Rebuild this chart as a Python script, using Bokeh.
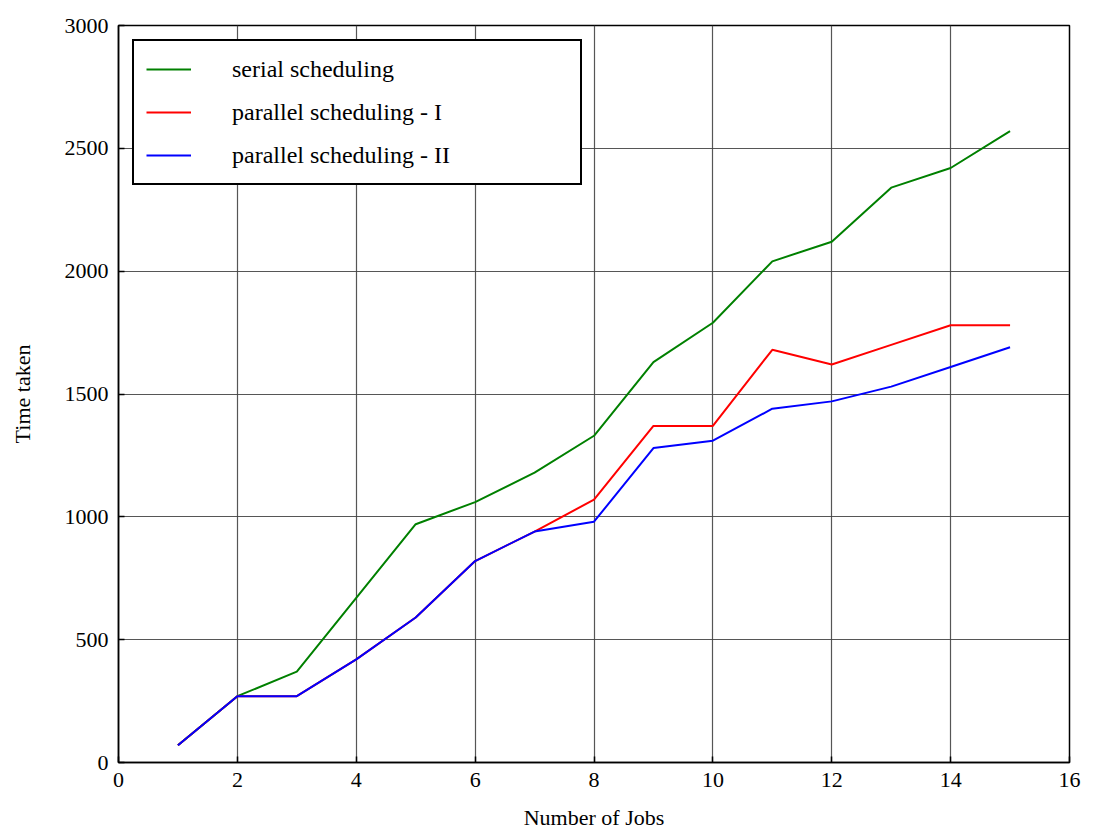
from bokeh.plotting import figure
from bokeh.models import Legend, LegendItem, FixedTicker, Range1d
from bokeh.embed import file_html
from bokeh.resources import INLINE

jobs = list(range(1, 16))
serial = [70, 270, 370, 670, 970, 1060, 1180, 1330, 1630, 1790, 2040, 2120, 2340, 2420, 2570]
parallel_1 = [70, 270, 270, 420, 590, 820, 940, 1070, 1370, 1370, 1680, 1620, 1700, 1780, 1780]
parallel_2 = [70, 270, 270, 420, 590, 820, 940, 980, 1280, 1310, 1440, 1470, 1530, 1610, 1690]
x_ticks = [0, 2, 4, 6, 8, 10, 12, 14, 16]
y_ticks = [0, 500, 1000, 1500, 2000, 2500, 3000]
labels = ["serial scheduling", "parallel scheduling - I", "parallel scheduling - II"]
colors = ["#008000", "#ff0000", "#0000ff"]

FONT = "Liberation Serif"

p = figure(frame_width=951, frame_height=737, output_backend="svg", toolbar_location=None,
           x_range=Range1d(0, 16), y_range=Range1d(0, 3000),
           min_border_left=118, min_border_right=25, min_border_top=25, min_border_bottom=73)
p.background_fill_color = "white"
p.border_fill_color = "white"
p.outline_line_color = "black"
p.outline_line_width = 1.5

renderers = []
for ys, c in zip([serial, parallel_1, parallel_2], colors):
    r = p.line(jobs, ys, line_color=c, line_width=2)
    renderers.append(r)

p.xaxis.ticker = FixedTicker(ticks=x_ticks)
p.yaxis.ticker = FixedTicker(ticks=y_ticks)
for ax in (p.xaxis[0], p.yaxis[0]):
    ax.axis_line_color = "black"
    ax.axis_line_width = 1.5
    ax.major_tick_in = 6
    ax.major_tick_out = 0
    ax.minor_tick_line_color = None
    ax.major_tick_line_color = "black"
    ax.major_tick_line_width = 1.5
    ax.major_label_text_font = FONT
    ax.major_label_text_font_size = "22px"
    ax.major_label_text_color = "black"
    ax.axis_label_text_font = FONT
    ax.axis_label_text_font_size = "22px"
    ax.axis_label_text_font_style = "normal"
    ax.axis_label_text_color = "black"

p.xaxis.axis_label = "Number of Jobs"
p.yaxis.axis_label = "Time taken"
p.xaxis.major_label_standoff = 10
p.yaxis.major_label_standoff = 10
p.xaxis.axis_label_standoff = 15
p.yaxis.axis_label_standoff = 27

for g in (p.xgrid[0], p.ygrid[0]):
    g.grid_line_color = "#444444"
    g.grid_line_width = 1.2
    g.grid_line_alpha = 0.9

legend = Legend(items=[LegendItem(label=l, renderers=[r]) for l, r in zip(labels, renderers)],
                location="top_left")
legend.margin = 14
legend.padding = 12
legend.glyph_width = 45
legend.glyph_height = 32
legend.label_height = 32
legend.spacing = 11
legend.label_standoff = 41
legend.label_width = 336
legend.label_text_font = FONT
legend.label_text_font_size = "24px"
legend.label_text_color = "black"
legend.border_line_color = "black"
legend.border_line_width = 2
legend.border_line_alpha = 1.0
legend.background_fill_color = "white"
legend.background_fill_alpha = 1.0
p.add_layout(legend)

open("out.html", "w").write(file_html(p, INLINE))
